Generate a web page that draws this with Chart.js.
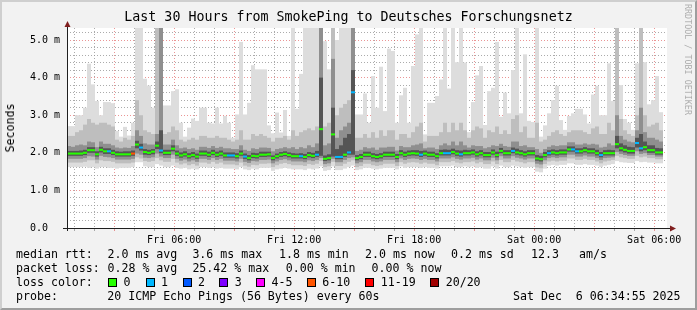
<!DOCTYPE html>
<html><head><meta charset="utf-8">
<script src="https://cdn.jsdelivr.net/npm/chart.js@4.4.1/dist/chart.umd.min.js"></script>
<style>
html,body{margin:0;padding:0;background:#f2f2f2;}
#wrap{position:relative;width:697px;height:310px;overflow:hidden;background:#f2f2f2;font-family:'DejaVu Sans Mono',monospace;color:#000;}
#frame{position:absolute;left:0;top:0;width:697px;height:310px;box-sizing:border-box;border-top:2px solid #cfcfcf;border-left:2px solid #cfcfcf;border-right:2px solid #9e9e9e;border-bottom:2px solid #9e9e9e;}
canvas{position:absolute;left:0;top:0;}
.t{position:absolute;white-space:pre;font-size:11.6px;line-height:14px;}
.box{position:absolute;width:7px;height:7px;border:1px solid #000;}
#title{position:absolute;left:0;top:9px;width:697px;text-align:center;font-size:13.3px;line-height:16px;white-space:pre;}
#ylab{position:absolute;left:10px;top:128px;transform:translate(-50%,-50%) rotate(-90deg);font-size:11.6px;line-height:14px;white-space:pre;}
#wm{position:absolute;left:693px;top:4px;transform-origin:0 0;transform:rotate(90deg);font-size:8.4px;line-height:10px;color:rgba(0,0,0,0.3);white-space:pre;}
</style></head>
<body>
<div id="wrap">
<div id="frame"></div>
<canvas id="c" width="697" height="310"></canvas>
<div id="title">Last 30 Hours from SmokePing to Deutsches Forschungsnetz</div>
<div id="ylab">Seconds</div>
<div id="wm">RRDTOOL / TOBI OETIKER</div>
</div>
<script>
// ---------- data (ms), one value per 12-minute column ----------
const med = [
1.98,1.98,1.98,1.98,2.00,2.07,2.07,1.96,2.08,2.04, 2.04,2.00,1.96,1.96,1.96,1.96,1.98,2.22,2.14,2.02,
2.00,2.03,2.19,2.06,2.00,2.00,2.11,1.98,1.93,1.96, 1.91,1.94,1.90,1.98,1.98,1.95,2.00,1.95,1.98,1.93,
1.93,1.93,1.91,1.98,1.90,1.86,1.92,1.91,1.95,1.95,
1.96,1.86,1.91,1.95,1.97,1.94,1.91,1.91,1.91,1.89, 1.94,1.92,1.95,2.63,1.84,1.86,2.49,1.89,1.89,1.95,
2.01,3.61,1.86,1.89,1.95,1.95,1.91,1.89,1.91,1.95, 1.95,1.95,1.89,1.99,1.95,1.98,1.99,1.98,1.95,1.98,
1.95,1.95,1.91,1.99,1.99,1.99,2.02,1.98,1.96,1.99,
1.99,2.01,1.96,1.99,1.94,1.94,2.01,1.94,2.05,1.99, 1.99,2.05,2.01,1.99,1.96,1.99,1.99,1.85,1.83,1.94,
1.99,2.01,1.99,2.01,2.01,2.09,2.09,2.04,2.04,2.07, 2.04,2.04,1.99,1.94,1.99,1.99,1.99,2.23,2.12,2.08,
2.05,2.05,2.26,2.12,2.15,2.07,2.07,2.01,2.01,null];
const maxv = [
2.71,2.71,3.00,3.00,3.20,4.37,3.82,3.38,3.00,3.35, 3.35,3.32,2.58,2.43,2.69,2.46,2.80,5.40,5.40,3.97,
3.79,3.20,5.40,5.40,3.26,3.26,3.64,3.69,2.80,2.43, 2.67,2.91,2.85,3.20,3.20,2.80,2.78,3.20,2.78,2.98,
2.80,2.40,3.02,4.95,3.02,3.33,4.33,4.22,4.22,4.22,
2.73,2.52,3.07,2.54,3.14,2.45,5.40,3.17,4.10,5.40, 5.40,5.40,5.40,5.40,4.97,4.22,5.40,5.00,5.40,5.40,
5.40,5.40,3.02,3.02,3.58,2.80,4.04,3.20,4.29,3.11, 4.77,4.71,2.80,3.53,3.73,2.80,4.31,5.15,5.40,2.49,
3.33,3.33,3.51,3.95,5.40,3.71,5.40,4.41,5.40,4.40,
2.55,3.35,4.06,4.31,2.74,3.64,3.73,4.95,2.96,3.60, 3.05,4.20,5.40,3.05,4.62,2.85,2.82,5.40,2.43,2.73,
3.05,3.40,3.78,2.87,2.61,2.98,3.05,3.17,3.17,3.02, 2.78,3.55,3.78,3.00,3.00,4.38,3.38,5.40,3.80,2.90,
2.80,2.61,4.38,5.40,4.41,3.29,3.40,4.04,3.08,null];
const hiB = [
2.45,2.45,2.55,2.60,2.75,2.90,2.80,2.75,2.80,2.80, 2.75,2.70,2.35,2.30,2.40,2.35,2.45,3.40,3.00,2.60,
2.55,2.50,5.40,5.40,2.50,2.55,2.70,2.60,2.35,2.30, 2.35,2.40,2.35,2.45,2.45,2.40,2.40,2.45,2.40,2.40,
2.35,2.30,2.35,2.60,2.35,2.35,2.50,2.45,2.50,2.45,
2.40,2.30,2.40,2.40,2.45,2.35,2.60,2.45,2.55,2.60, 2.65,2.60,2.70,5.40,2.70,2.80,5.40,3.00,3.20,3.30,
3.40,5.40,2.40,2.40,2.50,2.40,2.55,2.40,2.60,2.45, 2.60,2.60,2.35,2.50,2.50,2.40,2.55,2.70,2.80,2.30,
2.45,2.45,2.45,2.55,2.80,2.55,2.80,2.60,2.80,2.60,
2.40,2.60,2.70,2.65,2.40,2.60,2.55,2.70,2.50,2.60, 2.50,2.90,3.00,2.55,2.70,2.40,2.40,2.80,2.30,2.35,
2.45,2.55,2.60,2.50,2.45,2.55,2.60,2.60,2.60,2.55, 2.50,2.65,2.70,2.50,2.50,2.80,2.60,5.40,2.90,2.60,
2.50,2.45,3.00,5.40,3.00,2.70,2.75,2.80,2.60,null];
const hiC = [
2.18,2.16,2.20,2.22,2.20,2.30,2.28,2.15,2.30,2.24, 2.24,2.20,2.14,2.12,2.14,2.13,2.18,2.60,2.45,2.25,
2.22,2.22,2.50,5.40,2.22,2.22,2.35,2.20,2.12,2.14, 2.10,2.12,2.08,2.16,2.16,2.13,2.18,2.13,2.16,2.12,
2.12,2.10,2.10,2.20,2.08,2.05,2.12,2.10,2.14,2.14,
2.13,2.04,2.10,2.12,2.15,2.12,2.15,2.10,2.15,2.12, 2.20,2.15,2.25,5.40,2.20,2.25,4.50,2.40,2.60,2.70,
2.80,5.40,2.05,2.08,2.15,2.12,2.14,2.08,2.14,2.14, 2.16,2.16,2.06,2.18,2.15,2.15,2.20,2.22,2.25,2.12,
2.14,2.14,2.10,2.20,2.25,2.20,2.30,2.20,2.30,2.20,
2.14,2.20,2.18,2.18,2.12,2.15,2.20,2.18,2.24,2.18, 2.16,2.30,2.30,2.18,2.20,2.15,2.15,2.10,2.00,2.10,
2.16,2.20,2.18,2.20,2.20,2.28,2.28,2.22,2.22,2.25, 2.22,2.24,2.22,2.14,2.16,2.25,2.20,3.00,2.45,2.35,
2.30,2.28,2.60,3.20,2.55,2.40,2.40,2.35,2.30,null];
const hiD = [
2.05,2.05,2.05,2.06,2.08,2.15,2.15,2.04,2.16,2.12, 2.12,2.08,2.04,2.03,2.04,2.04,2.06,2.32,2.24,2.10,
2.08,2.10,2.30,2.60,2.08,2.08,2.20,2.06,2.01,2.04, 1.99,2.02,1.98,2.06,2.06,2.03,2.08,2.03,2.06,2.01,
2.01,2.01,1.99,2.06,1.98,1.94,2.00,1.99,2.03,2.03,
2.03,1.93,1.98,2.02,2.04,2.01,1.99,1.98,1.99,1.97, 2.02,2.00,2.05,4.00,1.93,1.96,3.20,2.10,2.20,2.40,
2.50,4.20,1.94,1.97,2.03,2.03,1.99,1.97,1.99,2.03, 2.03,2.03,1.97,2.07,2.03,2.06,2.07,2.07,2.05,2.06,
2.03,2.03,1.99,2.08,2.09,2.08,2.11,2.07,2.06,2.08,
2.07,2.09,2.04,2.07,2.02,2.02,2.09,2.03,2.13,2.07, 2.07,2.14,2.11,2.07,2.04,2.07,2.07,1.94,1.92,2.02,
2.07,2.09,2.07,2.09,2.09,2.17,2.17,2.12,2.12,2.15, 2.12,2.12,2.08,2.02,2.07,2.08,2.07,2.45,2.25,2.20,
2.16,2.15,2.40,2.50,2.30,2.20,2.20,2.13,2.12,null];
const loD = [
1.92,1.92,1.92,1.92,1.94,2.00,2.00,1.90,2.01,1.97, 1.97,1.94,1.90,1.90,1.90,1.90,1.92,2.12,2.06,1.95,
1.94,1.96,2.10,1.99,1.94,1.94,2.04,1.92,1.87,1.90, 1.85,1.88,1.84,1.92,1.92,1.89,1.94,1.89,1.92,1.87,
1.87,1.87,1.85,1.92,1.84,1.80,1.86,1.85,1.89,1.89,
1.90,1.80,1.85,1.89,1.91,1.88,1.85,1.85,1.85,1.83, 1.88,1.86,1.89,1.92,1.78,1.80,1.90,1.83,1.83,1.89,
1.95,1.95,1.80,1.83,1.89,1.89,1.85,1.83,1.85,1.89, 1.89,1.89,1.83,1.93,1.89,1.92,1.93,1.92,1.89,1.92,
1.89,1.89,1.85,1.93,1.93,1.93,1.96,1.92,1.90,1.93,
1.93,1.95,1.90,1.93,1.88,1.88,1.95,1.88,1.99,1.93, 1.93,1.99,1.95,1.93,1.90,1.93,1.93,1.79,1.77,1.88,
1.93,1.95,1.93,1.95,1.95,2.03,2.03,1.98,1.98,2.01, 1.98,1.98,1.93,1.88,1.93,1.93,1.93,2.12,2.04,2.01,
1.98,1.98,2.14,2.04,2.07,2.00,2.00,1.95,1.95,null];
const loC = [
1.84,1.84,1.84,1.84,1.86,1.91,1.90,1.82,1.92,1.89, 1.88,1.86,1.82,1.82,1.82,1.82,1.84,1.98,1.95,1.87,
1.86,1.88,1.98,1.90,1.86,1.86,1.95,1.84,1.79,1.82, 1.77,1.80,1.76,1.84,1.84,1.81,1.86,1.81,1.84,1.79,
1.79,1.79,1.77,1.84,1.76,1.73,1.78,1.77,1.81,1.81,
1.82,1.72,1.77,1.81,1.83,1.80,1.77,1.77,1.77,1.75, 1.80,1.78,1.81,1.86,1.70,1.72,1.84,1.75,1.75,1.81,
1.86,1.88,1.72,1.75,1.81,1.81,1.77,1.75,1.77,1.81, 1.81,1.81,1.75,1.85,1.81,1.84,1.85,1.84,1.81,1.84,
1.81,1.81,1.77,1.85,1.85,1.85,1.88,1.84,1.82,1.85,
1.85,1.87,1.82,1.85,1.80,1.80,1.87,1.80,1.91,1.85, 1.85,1.91,1.87,1.85,1.82,1.85,1.85,1.71,1.69,1.80,
1.86,1.88,1.86,1.88,1.88,1.95,1.95,1.90,1.90,1.93, 1.90,1.90,1.86,1.81,1.86,1.87,1.88,2.02,1.97,1.94,
1.92,1.92,2.04,1.97,1.99,1.94,1.94,1.90,1.90,null];
const loB = [
1.74,1.74,1.74,1.74,1.76,1.80,1.80,1.72,1.80,1.78, 1.78,1.76,1.72,1.72,1.72,1.72,1.74,1.88,1.85,1.78,
1.76,1.78,1.86,1.80,1.76,1.76,1.84,1.74,1.69,1.72, 1.67,1.70,1.66,1.74,1.74,1.71,1.76,1.71,1.74,1.69,
1.69,1.69,1.67,1.74,1.66,1.63,1.68,1.67,1.71,1.71,
1.72,1.62,1.67,1.71,1.73,1.70,1.67,1.67,1.67,1.65, 1.70,1.68,1.71,1.78,1.62,1.64,1.76,1.65,1.65,1.71,
1.76,1.80,1.62,1.65,1.71,1.71,1.67,1.65,1.67,1.71, 1.71,1.71,1.65,1.75,1.71,1.74,1.75,1.74,1.71,1.74,
1.71,1.71,1.67,1.75,1.75,1.75,1.78,1.74,1.72,1.75,
1.75,1.77,1.72,1.75,1.70,1.70,1.77,1.70,1.81,1.75, 1.75,1.81,1.77,1.75,1.72,1.75,1.75,1.61,1.59,1.70,
1.77,1.79,1.77,1.79,1.79,1.85,1.85,1.81,1.81,1.84, 1.81,1.81,1.77,1.72,1.77,1.79,1.81,1.92,1.88,1.86,
1.84,1.84,1.92,1.88,1.90,1.86,1.86,1.83,1.83,null];
const minv = [
1.62,1.62,1.62,1.62,1.63,1.60,1.62,1.58,1.62,1.62, 1.60,1.60,1.58,1.60,1.60,1.60,1.62,1.75,1.75,1.64,
1.62,1.62,1.70,1.66,1.62,1.62,1.66,1.60,1.58,1.60, 1.56,1.58,1.56,1.62,1.62,1.60,1.62,1.58,1.60,1.58,
1.58,1.58,1.56,1.62,1.56,1.54,1.58,1.56,1.60,1.60,
1.60,1.52,1.56,1.58,1.60,1.58,1.56,1.56,1.56,1.54, 1.58,1.56,1.58,1.64,1.52,1.54,1.64,1.54,1.54,1.58,
1.62,1.66,1.54,1.56,1.60,1.60,1.58,1.56,1.58,1.60, 1.60,1.60,1.56,1.64,1.60,1.62,1.62,1.62,1.60,1.62,
1.60,1.60,1.58,1.64,1.64,1.64,1.66,1.62,1.62,1.64,
1.62,1.64,1.60,1.62,1.58,1.58,1.64,1.58,1.66,1.62, 1.62,1.66,1.64,1.62,1.60,1.62,1.62,1.50,1.48,1.58,
1.66,1.68,1.66,1.68,1.68,1.72,1.72,1.68,1.68,1.70, 1.68,1.68,1.66,1.62,1.66,1.68,1.70,1.78,1.75,1.74,
1.73,1.73,1.78,1.75,1.76,1.74,1.74,1.72,1.72,null];
// lost pings (of 20) per column
const loss = [
0,0,0,0,0,0,0,0,0,0, 1,0,0,0,0,0,6,0,1,0, 0,0,0,1,0,0,0,0,0,0, 0,0,0,0,0,0,0,0,0,0, 1,1,0,0,1,0,0,0,0,0,
0,0,0,0,0,0,0,0,1,0, 0,0,1,0,0,0,0,1,1,0, 1,1,0,0,0,0,0,0,0,0, 0,0,0,0,0,0,0,0,1,0, 0,0,0,0,1,1,0,0,1,0,
0,0,0,0,0,0,0,0,0,0, 0,1,0,0,0,0,0,0,0,0, 1,0,0,0,0,0,1,1,0,0, 0,0,0,1,0,0,0,0,0,0, 0,0,1,1,0,0,0,0,0,null];

// loss colour legend
const lossLabels = ['0','1','2','3','4-5','6-10','11-19','20/20'];
const lossUpper  = [0,1,2,3,5,10,19,20];
const lossColors = ['#26ff00','#00b8ff','#0059ff','#7e00ff','#ff00ff','#ff5500','#ff0000','#a10000'];

// axes
const T0 = 0.64;               // hours after Fri 00:00 at left edge
const SPAN = 30;               // hours shown
const xTickHours = [6,12,18,24,30];
const xTickText  = ['Fri 06:00','Fri 12:00','Fri 18:00','Sat 00:00','Sat 06:00'];
const yTickVals  = [0,1,2,3,4,5];
const yTickText  = ['0.0','1.0 m','2.0 m','3.0 m','4.0 m','5.0 m'];
const YMAX = 5.32;

// legend text
const statRows = [
  [[16,'median rtt:'],[107.5,'2.0 ms avg'],[192.4,'3.6 ms max'],[279,'1.8 ms min'],[365,'2.0 ms now'],[451,'0.2 ms sd'],[531,'12.3'],[579,'am/s']],
  [[16,'packet loss:'],[107.5,'0.28 % avg'],[192.4,'25.42 % max'],[285.8,'0.00 % min'],[371.6,'0.00 % now']],
  [[16,'loss color:']],
  [[16,'probe:'],[107.3,'20 ICMP Echo Pings (56 Bytes) every 60s'],[513,'Sat Dec  6 06:34:55 2025']]
];
const boxX = [108,145.5,182.5,219.3,256,306.7,365.3,430.2];

// ---------- build ----------
const N = med.length;
const colLabels = [];
for (let i = 0; i < N; i++) {
  const h = T0 + i * SPAN / N;
  const d = h >= 24 ? 'Sat' : 'Fri';
  const hh = Math.floor(h % 24), mm = Math.floor((h % 1) * 60);
  colLabels.push(d + ' ' + String(hh).padStart(2,'0') + ':' + String(mm).padStart(2,'0'));
}
const pair = (lo, hi) => lo.map((v, i) => (v == null || hi[i] == null) ? null : [v, hi[i]]);
const lossColor = n => { for (let k = 0; k < lossUpper.length; k++) if (n <= lossUpper[k]) return lossColors[k]; return lossColors[7]; };

const barBase = { grouped:false, categoryPercentage:1, barPercentage:1, borderWidth:0, borderSkipped:false, inflateAmount:0 };
const datasets = [
  Object.assign({ label:'median', data: med.map(v => v == null ? null : [v - 0.027, v + 0.027]),
    backgroundColor: loss.map(n => n == null ? 'rgba(0,0,0,0)' : lossColor(n)) }, barBase),
  Object.assign({ label:'smoke4', data: pair(loD, hiD), backgroundColor:'#555555' }, barBase),
  Object.assign({ label:'smoke3', data: pair(loC, hiC), backgroundColor:'#8f8f8f' }, barBase),
  Object.assign({ label:'smoke2', data: pair(loB, hiB), backgroundColor:'#bebebe' }, barBase),
  Object.assign({ label:'smoke1', data: pair(minv, maxv), backgroundColor:'#dddddd' }, barBase)
];

const MAJ = 'rgba(222,79,79,0.6)';
const MIN = 'rgba(143,143,143,0.75)';
const yGrid = [];
for (let k = 0; k * 0.2 < YMAX; k++) yGrid.push(Math.round(k * 2) / 10);
const isMajorY = v => yTickVals.indexOf(v) >= 0;
const hourTicks = [];
for (let h = Math.ceil(T0); h <= T0 + SPAN; h++) hourTicks.push(h);

const rrdFrame = {
  id: 'rrdFrame',
  beforeDraw(c) {
    const a = c.chartArea, x = c.ctx;
    x.save(); x.fillStyle = '#ffffff';
    x.fillRect(a.left, a.top, a.right - a.left, a.bottom - a.top);
    x.restore();
  },
  afterDraw(c) {
    const a = c.chartArea, x = c.ctx;
    x.save();
    x.fillStyle = '#1f1f1f';
    x.fillRect(a.left, a.top - 2, 1, a.bottom - a.top + 5);
    x.fillRect(a.left - 4, a.bottom, a.right - a.left + 8, 1);
    x.fillStyle = '#801f1f';
    x.beginPath(); x.moveTo(a.left + 0.5, a.top - 7); x.lineTo(a.left + 3.5, a.top - 1); x.lineTo(a.left - 2.5, a.top - 1); x.closePath(); x.fill();
    x.beginPath(); x.moveTo(a.right + 9, a.bottom + 0.5); x.lineTo(a.right + 3, a.bottom - 2.5); x.lineTo(a.right + 3, a.bottom + 3.5); x.closePath(); x.fill();
    x.restore();
  }
};

Chart.defaults.font.family = "'DejaVu Sans Mono', monospace";
new Chart(document.getElementById('c'), {
  type: 'bar',
  data: { labels: colLabels, datasets },
  plugins: [rrdFrame],
  options: {
    responsive: false, animation: false,
    layout: { padding: { left: 30, right: 30, top: 28, bottom: 60 } },
    plugins: { legend: { display:false }, tooltip: { enabled:false }, title: { display:false } },
    scales: {
      x: { type:'category', display:false, offset:true },
      xt: {
        type:'linear', position:'bottom', min:T0, max:T0 + SPAN, z:1, offset:false,
        afterBuildTicks: s => { s.ticks = hourTicks.map(v => ({ value:v })); },
        afterFit: s => { s.height = 22; },
        ticks: { autoSkip:false, maxRotation:0, padding:3, color:'#000', font:{ size:10 },
          callback: v => { const k = xTickHours.indexOf(v); return k >= 0 ? xTickText[k] : ''; } },
        grid: { offset:false, color: c => (c.tick && c.tick.value % 3 === 0) ? MAJ : MIN, tickLength:3, tickBorderDash:[] },
        border: { display:false, dash:[1,2] }
      },
      y: {
        min:0, max:YMAX, z:1,
        afterBuildTicks: s => { s.ticks = yGrid.map(v => ({ value:v })); },
        afterFit: s => { s.width = 37; },
        ticks: { autoSkip:false, crossAlign:'far', padding:0, color:'#000', font:{ size:10 },
          callback: v => { const k = yTickVals.indexOf(v); return k >= 0 ? yTickText[k] : ''; } },
        grid: { color: c => (c.tick && isMajorY(c.tick.value)) ? MAJ : MIN, drawTicks:false },
        border: { display:false, dash:[1,2] }
      }
    }
  }
});

// ---------- legend text ----------
const wrap = document.getElementById('wrap');
const rowTop = [247, 261, 275, 289];
statRows.forEach((row, r) => row.forEach(([x, s]) => {
  const d = document.createElement('div'); d.className = 't';
  d.style.left = x + 'px'; d.style.top = rowTop[r] + 'px'; d.textContent = s; wrap.appendChild(d);
}));
lossLabels.forEach((lab, k) => {
  const b = document.createElement('div'); b.className = 'box';
  b.style.left = boxX[k] + 'px'; b.style.top = '278px'; b.style.background = lossColors[k]; wrap.appendChild(b);
  const d = document.createElement('div'); d.className = 't';
  d.style.left = (boxX[k] + 15.5) + 'px'; d.style.top = rowTop[2] + 'px'; d.textContent = lab; wrap.appendChild(d);
});
</script>
</body></html>
